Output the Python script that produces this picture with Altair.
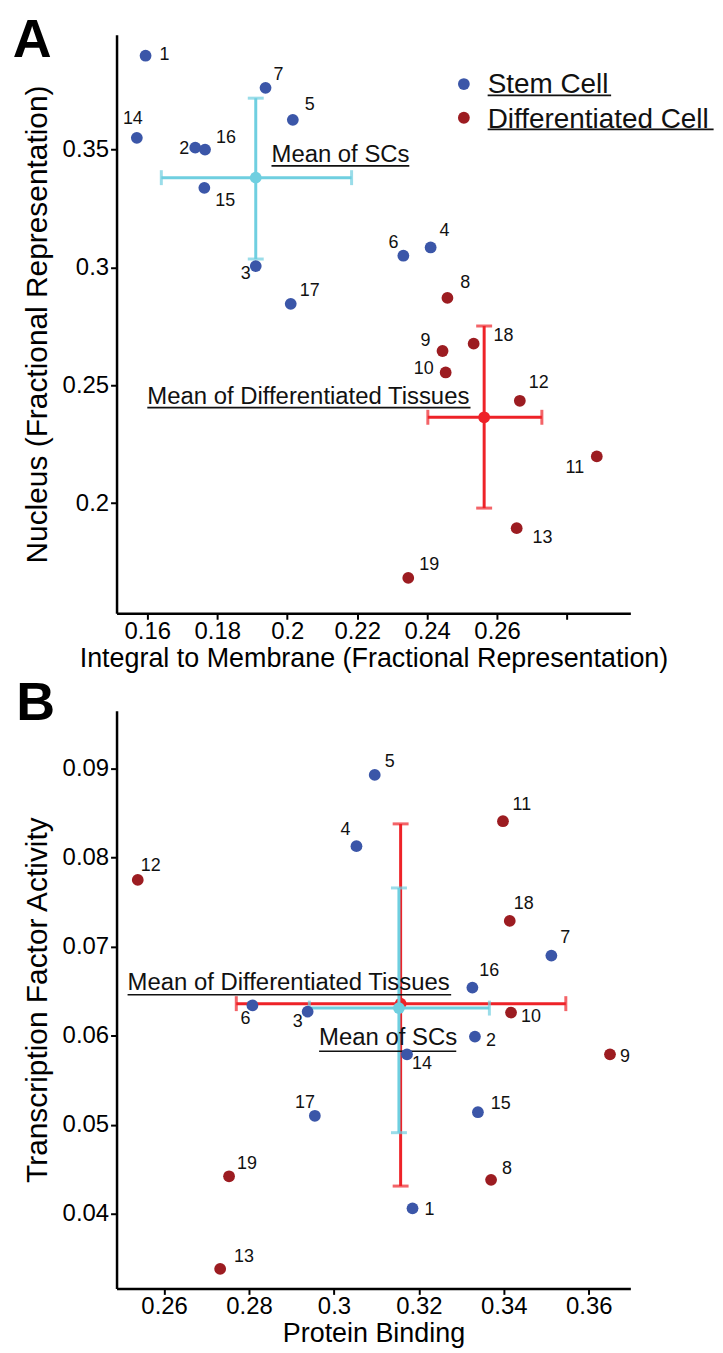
import altair as alt
import pandas as pd

FONT = "Liberation Sans"
BLUE = "#3B56A8"
RED = "#9C1C21"
CYAN = "#6FCFE0"
BRED = "#EE2228"

# ---------------- data ----------------
ids = list(range(1, 20))
groups = (["Stem Cell"] * 7 + ["Differentiated Cell"] * 6 +
          ["Stem Cell"] * 4 + ["Differentiated Cell"] * 2)

# Panel A: Integral to Membrane (x) vs Nucleus (y)
a_membrane = [0.1595, 0.1737, 0.1910, 0.2410, 0.2016, 0.2332, 0.1938, 0.2458, 0.2444, 0.2453,
              0.2885, 0.2665, 0.2656, 0.1570, 0.1763, 0.1765, 0.2010, 0.2533, 0.2346]
a_nucleus = [0.3897, 0.3507, 0.3005, 0.3084, 0.3625, 0.3049, 0.3761, 0.2870, 0.2645, 0.2554,
             0.2198, 0.2434, 0.1894, 0.3549, 0.3337, 0.3499, 0.2845, 0.2676, 0.1683]
# label offsets from each point (pixels, right / down)
a_label_dx = [19, -11, -10, 14, 17, -10, 13, 18, -17, -22, -22, 19, 26, -4, 21, 21, 19, 30, 21]
a_label_dy = [-1, 1, 8, -17, -15, -13, -13, -15, -10, -3, 12, -18, 10, -19, 13, -12, -13, -8, -13]

# Panel B: Protein Binding (x) vs Transcription Factor Activity (y)
b_protein = [0.3185, 0.3332, 0.2938, 0.3053, 0.3096, 0.2808, 0.3512, 0.3370, 0.3650, 0.3417,
             0.3398, 0.2538, 0.2732, 0.3172, 0.3339, 0.3326, 0.2955, 0.3414, 0.2753]
b_tf = [0.0406, 0.0599, 0.0627, 0.0813, 0.0893, 0.0634, 0.0690, 0.0438, 0.0579, 0.0626,
        0.0841, 0.0775, 0.0338, 0.0579, 0.0514, 0.0654, 0.0510, 0.0729, 0.0442]
b_label_dx = [17, 16, -10, -11, 15, -7, 14, 16, 15, 20, 19, 13, 24, 15, 23, 17, -10, 14, 18]
b_label_dy = [2, 4, 10, -16, -13, 14, -18, -11, 3, 4, -16, -14, -12, 10, -8, -17, -13, -17, -12]

# Means with error extents: [mean_x, mean_y, x_lo, x_hi, y_lo, y_hi]
a_sc_mean = [0.1910, 0.3380, 0.1640, 0.2184, 0.3035, 0.3717]
a_diff_mean = [0.2563, 0.2364, 0.2402, 0.2728, 0.1979, 0.2751]
b_sc_mean = [0.3153, 0.0631, 0.2942, 0.3366, 0.0491, 0.0766]
b_diff_mean = [0.3157, 0.0636, 0.2770, 0.3546, 0.0431, 0.0838]

# Axis domains and ticks
a_xdomain = [0.1512, 0.2981]
a_ydomain = [0.1533, 0.3986]
a_xticks = [0.16, 0.18, 0.20, 0.22, 0.24, 0.26, 0.28]
a_yticks = [0.20, 0.25, 0.30, 0.35]
b_xdomain = [0.2488, 0.3698]
b_ydomain = [0.0316, 0.0965]
b_xticks = [0.26, 0.28, 0.30, 0.32, 0.34, 0.36]
b_yticks = [0.04, 0.05, 0.06, 0.07, 0.08, 0.09]

# Annotation texts (data coords: left x, baseline y, underline end x, underline y)
a_ann_text = ["Mean of SCs", "Mean of Differentiated Tissues"]
a_ann_x = [0.1955, 0.1600]
a_ann_y = [0.3447, 0.2420]
a_ann_x2 = [0.2349, 0.2524]
a_ann_uy = [0.3430, 0.2405]
b_ann_text = ["Mean of Differentiated Tissues", "Mean of SCs"]
b_ann_x = [0.2514, 0.2965]
b_ann_y = [0.06515, 0.0590]
b_ann_x2 = [0.3276, 0.3288]
b_ann_uy = [0.0646, 0.05825]

# Legend (panel A) positions in data coords
leg_groups = ["Stem Cell", "Differentiated Cell"]
leg_dot_x = [0.2505, 0.2505]
leg_dot_y = [0.3777, 0.3634]
leg_text_x = [0.2573, 0.2573]
leg_text_y = [0.3737, 0.3592]
leg_ul_x2 = [0.2926, 0.3219]
leg_ul_y = [0.3729, 0.3585]

# Panel letters (data coords: left x, baseline y)
a_letter = ["A", 0.1215, 0.3891]
b_letter = ["B", 0.2252, 0.0955]

color_scale = alt.Scale(domain=["Stem Cell", "Differentiated Cell"], range=[BLUE, RED])


def panel(xs, ys, dxs, dys, xdom, ydom, xticks, yticks, xtitle, ytitle,
          means, ann, letter, legend=False, hide_last=False, w=516, h=581):
    df = pd.DataFrame({"id": ids, "group": groups, "x": xs, "y": ys, "dx": dxs, "dy": dys})
    label_expr = "datum.value > 0.275 ? '' : datum.label" if hide_last else "datum.label"
    xaxis = alt.Axis(values=xticks, title=xtitle, format="~g", labelExpr=label_expr)
    yaxis = alt.Axis(values=yticks, title=ytitle, format="~g")
    xsc = alt.Scale(domain=xdom, nice=False, zero=False)
    ysc = alt.Scale(domain=ydom, nice=False, zero=False)
    kx = (xdom[1] - xdom[0]) / w   # data units per pixel
    ky = (ydom[1] - ydom[0]) / h

    def X(f):
        return alt.X(f, type="quantitative", scale=xsc, axis=xaxis)

    def Y(f):
        return alt.Y(f, type="quantitative", scale=ysc, axis=yaxis)

    layers = []
    for m, col in means:
        mx, my, xlo, xhi, ylo, yhi = m
        mdf = pd.DataFrame({"x": [mx], "y": [my], "xlo": [xlo], "xhi": [xhi],
                            "ylo": [ylo], "yhi": [yhi]})
        hcap = pd.DataFrame({"x": [xlo, xhi], "y": [my, my]})
        vcap = pd.DataFrame({"x": [mx, mx], "y": [ylo, yhi]})
        layers.append(alt.Chart(mdf).mark_rule(color=col, strokeWidth=3).encode(
            x=X("xlo"), x2="xhi", y=Y("y")))
        layers.append(alt.Chart(mdf).mark_rule(color=col, strokeWidth=3).encode(
            x=X("x"), y=Y("ylo"), y2="yhi"))
        layers.append(alt.Chart(hcap).mark_tick(color=col, orient="vertical", size=15,
                                                thickness=3).encode(x=X("x"), y=Y("y")))
        layers.append(alt.Chart(vcap).mark_tick(color=col, orient="horizontal", size=16,
                                                thickness=3).encode(x=X("x"), y=Y("y")))
        layers.append(alt.Chart(mdf).mark_circle(color=col, size=140, opacity=1).encode(
            x=X("x"), y=Y("y")))

    adf = pd.DataFrame({"text": ann[0], "x": ann[1], "y": ann[2], "x2": ann[3], "uy": ann[4]})
    layers.append(alt.Chart(adf).mark_text(align="left", baseline="alphabetic", fontSize=24,
                                           font=FONT, color="#111").encode(
        x=X("x"), y=Y("y"), text="text:N"))
    layers.append(alt.Chart(adf).mark_rule(color="#111", strokeWidth=1.6).encode(
        x=X("x"), x2="x2", y=Y("uy")))

    layers.append(alt.Chart(df).mark_circle(size=140, opacity=1).encode(
        x=X("x"), y=Y("y"), color=alt.Color("group:N", scale=color_scale, legend=None)))
    layers.append(alt.Chart(df).transform_calculate(
        lx=f"datum.x + datum.dx * {kx}",
        ly=f"datum.y - datum.dy * {ky}",
    ).mark_text(fontSize=18, font=FONT, color="#111", align="center", baseline="middle").encode(
        x=X("lx"), y=Y("ly"), text="id:N"))

    if legend:
        ldf = pd.DataFrame({"group": leg_groups, "x": leg_dot_x, "y": leg_dot_y,
                            "tx": leg_text_x, "ty": leg_text_y, "ux2": leg_ul_x2, "uy": leg_ul_y})
        layers.append(alt.Chart(ldf).mark_circle(size=140, opacity=1).encode(
            x=X("x"), y=Y("y"), color=alt.Color("group:N", scale=color_scale, legend=None)))
        layers.append(alt.Chart(ldf).mark_text(align="left", baseline="alphabetic", fontSize=28,
                                               font=FONT, color="#111").encode(
            x=X("tx"), y=Y("ty"), text="group:N"))
        layers.append(alt.Chart(ldf).mark_rule(color="#111", strokeWidth=1.8).encode(
            x=X("tx"), x2="ux2", y=Y("uy")))

    letdf = pd.DataFrame({"t": [letter[0]], "x": [letter[1]], "y": [letter[2]]})
    layers.append(alt.Chart(letdf).mark_text(align="left", baseline="alphabetic", fontSize=54,
                                             fontWeight="bold", font=FONT, color="black").encode(
        x=X("x"), y=Y("y"), text="t:N"))

    return alt.layer(*layers).properties(width=w, height=h)


A = panel(a_membrane, a_nucleus, a_label_dx, a_label_dy, a_xdomain, a_ydomain, a_xticks, a_yticks,
          "Integral to Membrane (Fractional Representation)", "Nucleus (Fractional Representation)",
          [(a_sc_mean, CYAN), (a_diff_mean, BRED)],
          (a_ann_text, a_ann_x, a_ann_y, a_ann_x2, a_ann_uy), a_letter,
          legend=True, hide_last=True, h=581)

B = panel(b_protein, b_tf, b_label_dx, b_label_dy, b_xdomain, b_ydomain, b_xticks, b_yticks,
          "Protein Binding", "Transcription Factor Activity",
          [(b_diff_mean, BRED), (b_sc_mean, CYAN)],
          (b_ann_text, b_ann_x, b_ann_y, b_ann_x2, b_ann_uy), b_letter,
          legend=False, hide_last=False, h=580)

chart = alt.vconcat(A, B, spacing=5).properties(
    padding={"left": 4, "top": 3, "right": 0, "bottom": 0}
).configure_view(stroke=None).configure_axis(
    domainColor="black", domainWidth=2.5, tickColor="black", tickWidth=2, tickSize=6,
    labelFont=FONT, labelFontSize=24, labelColor="black",
    titleFont=FONT, titleFontWeight="normal", titleColor="black", grid=False
).configure_axisX(labelPadding=0, titlePadding=2, titleFontSize=27).configure_axisY(
    labelPadding=2, titlePadding=10, titleFontSize=30)

chart.save("out.html", embed_options={"renderer": "svg", "actions": False})
